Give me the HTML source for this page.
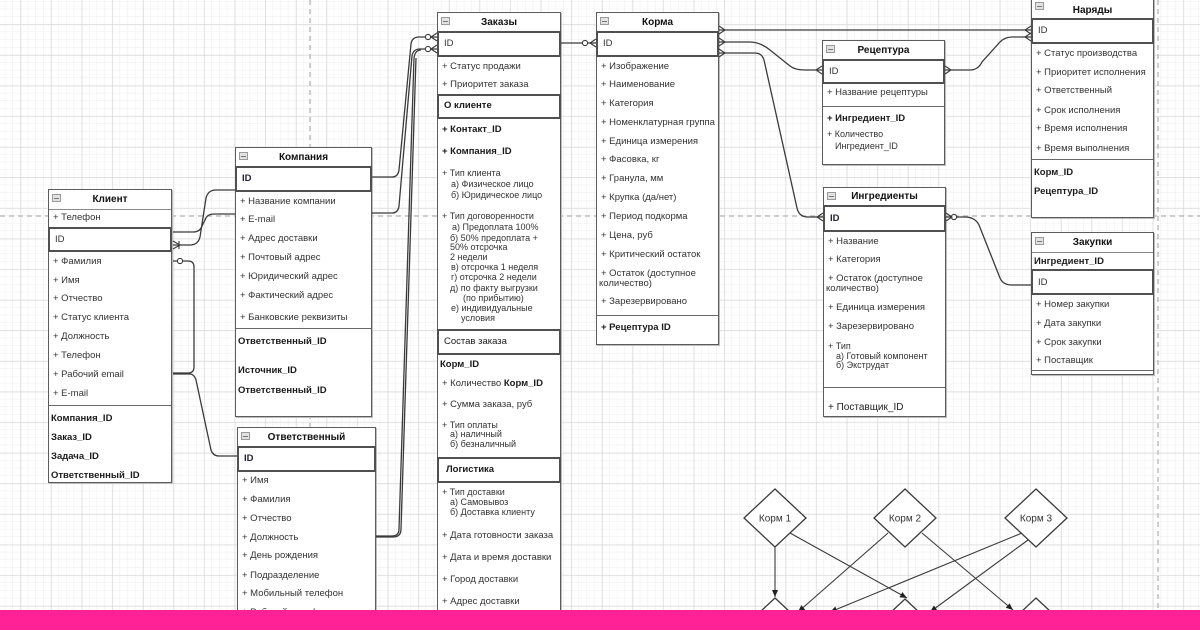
<!DOCTYPE html>
<html>
<head>
<meta charset="utf-8">
<style>
html,body{margin:0;padding:0;width:1200px;height:630px;overflow:hidden;}
body{position:relative;background:#fff;font-family:"Liberation Sans","DejaVu Sans",sans-serif;}
#bg{position:absolute;left:0;top:0;}
#fg{position:absolute;left:0;top:0;z-index:5;pointer-events:none;}
.tb{position:absolute;background:#fff;border:1.5px solid #5c5c5c;box-sizing:border-box;z-index:3;box-shadow:1px 1px 0 #bdbdbd;}
.hd{position:absolute;left:0;right:0;top:0;height:19px;border-bottom:1px solid #8a8a8a;font-weight:bold;text-align:center;line-height:19px;font-size:10px;color:#111;}
.ic{position:absolute;left:3px;top:4px;width:7px;height:6px;background:#e2e2e2;border:1px solid #9a9a9a;}
.ic:after{content:"";position:absolute;left:1px;top:2.5px;width:5px;height:1px;background:#777;}
.bx{position:absolute;left:-1px;right:-1px;border:2px solid #505050;box-sizing:border-box;}
.sp{position:absolute;left:0;right:0;height:0;border-top:1.5px solid #6a6a6a;}
.r{position:absolute;left:4px;font-size:9.5px;line-height:12px;white-space:nowrap;color:#333;}
.s{font-size:9px;line-height:10px;}
.b{font-weight:bold;color:#1a1a1a;left:2px;}
.pink{position:absolute;left:0;top:610px;width:1200px;height:20px;background:#ff2196;z-index:10;}
</style>
</head>
<body>
<svg id="bg" width="1200" height="630" xmlns="http://www.w3.org/2000/svg">
<defs>
<pattern id="mn" x="20.6" y="24.5" width="7.65" height="7.65" patternUnits="userSpaceOnUse">
<path d="M7.65 0V7.65M0 7.65H7.65" stroke="#ededed" stroke-width="1" fill="none"/>
</pattern>
<pattern id="mj" x="20.6" y="24.5" width="30.6" height="30.6" patternUnits="userSpaceOnUse">
<path d="M0 0V30.6M0 0H30.6" stroke="#d6d6d6" stroke-width="1.2" fill="none"/>
</pattern>
</defs>
<rect width="1200" height="630" fill="#fff"/>
<rect width="1200" height="630" fill="url(#mn)"/>
<rect width="1200" height="630" fill="url(#mj)"/>
<line x1="310" y1="0" x2="310" y2="630" stroke="#bdbdbd" stroke-width="1.5" stroke-dasharray="5,4"/>
<line x1="1158" y1="0" x2="1158" y2="630" stroke="#bdbdbd" stroke-width="1.5" stroke-dasharray="5,4"/>
<line x1="0" y1="216" x2="1200" y2="216" stroke="#bdbdbd" stroke-width="1.5" stroke-dasharray="5,4"/>
</svg>

<!-- Клиент -->
<div class="tb" style="left:48px;top:189px;width:124px;height:294px;">
<div class="hd"><div class="ic"></div>Клиент</div>
<div class="r" style="top:22px">+ Телефон</div>
<div class="bx" style="top:37px;height:25px"></div>
<div class="r" style="top:44px;left:6px">ID</div>
<div class="r" style="top:66px">+ Фамилия</div>
<div class="r" style="top:85px">+ Имя</div>
<div class="r" style="top:103px">+ Отчество</div>
<div class="r" style="top:122px">+ Статус клиента</div>
<div class="r" style="top:141px">+ Должность</div>
<div class="r" style="top:160px">+ Телефон</div>
<div class="r" style="top:179px">+ Рабочий email</div>
<div class="r" style="top:198px">+ E-mail</div>
<div class="sp" style="top:215px"></div>
<div class="r b" style="top:223px">Компания_ID</div>
<div class="r b" style="top:242px">Заказ_ID</div>
<div class="r b" style="top:261px">Задача_ID</div>
<div class="r b" style="top:280px">Ответственный_ID</div>
</div>

<!-- Компания -->
<div class="tb" style="left:235px;top:147px;width:137px;height:270px;">
<div class="hd"><div class="ic"></div>Компания</div>
<div class="bx" style="top:18px;height:26px"></div>
<div class="r" style="top:25px;left:6px;font-weight:bold;color:#223">ID</div>
<div class="r" style="top:48px">+ Название компании</div>
<div class="r" style="top:66px">+ E-mail</div>
<div class="r" style="top:85px">+ Адрес доставки</div>
<div class="r" style="top:104px">+ Почтовый адрес</div>
<div class="r" style="top:123px">+ Юридический адрес</div>
<div class="r" style="top:142px">+ Фактический адрес</div>
<div class="r" style="top:164px">+ Банковские реквизиты</div>
<div class="sp" style="top:180px"></div>
<div class="r b" style="top:188px">Ответственный_ID</div>
<div class="r b" style="top:217px">Источник_ID</div>
<div class="r b" style="top:237px">Ответственный_ID</div>
</div>

<!-- Ответственный -->
<div class="tb" style="left:237px;top:427px;width:139px;height:203px;">
<div class="hd"><div class="ic"></div>Ответственный</div>
<div class="bx" style="top:18px;height:26px"></div>
<div class="r" style="top:25px;left:6px;font-weight:bold;color:#223">ID</div>
<div class="r" style="top:47px">+ Имя</div>
<div class="r" style="top:66px">+ Фамилия</div>
<div class="r" style="top:85px">+ Отчество</div>
<div class="r" style="top:104px">+ Должность</div>
<div class="r" style="top:122px">+ День рождения</div>
<div class="r" style="top:142px">+ Подразделение</div>
<div class="r" style="top:160px">+ Мобильный телефон</div>
<div class="r" style="top:179px">+ Рабочий телефон</div>
</div>

<!-- Заказы -->
<div class="tb" style="left:437px;top:12px;width:124px;height:618px;">
<div class="hd"><div class="ic"></div>Заказы</div>
<div class="bx" style="top:18px;height:26px"></div>
<div class="r" style="top:25px;left:6px">ID</div>
<div class="r" style="top:48px">+ Статус продажи</div>
<div class="r" style="top:66px">+ Приоритет заказа</div>
<div class="bx" style="top:81px;height:25px"></div>
<div class="r" style="top:87px;left:6px;font-weight:bold;color:#1a1a1a">О клиенте</div>
<div class="r" style="top:111px;font-weight:bold;color:#1a1a1a">+ Контакт_ID</div>
<div class="r" style="top:133px;font-weight:bold;color:#1a1a1a">+ Компания_ID</div>
<div class="r s" style="top:155px">+ Тип клиента</div>
<div class="r s" style="top:166px;left:13px">а) Физическое лицо</div>
<div class="r s" style="top:177px;left:13px">б) Юридическое лицо</div>
<div class="r s" style="top:198px">+ Тип договоренности</div>
<div class="r s" style="top:209px;left:14px">а) Предоплата 100%</div>
<div class="r s" style="top:220px;left:12px">б) 50% предоплата +</div>
<div class="r s" style="top:229px;left:12px">50% отсрочка</div>
<div class="r s" style="top:239px;left:12px">2 недели</div>
<div class="r s" style="top:249px;left:13px">в) отсрочка 1 неделя</div>
<div class="r s" style="top:259px;left:13px">г) отсрочка 2 недели</div>
<div class="r s" style="top:270px;left:12px">д) по факту выгрузки</div>
<div class="r s" style="top:280px;left:25px">(по прибытию)</div>
<div class="r s" style="top:290px;left:13px">е) индивидуальные</div>
<div class="r s" style="top:300px;left:23px">условия</div>
<div class="bx" style="top:316px;height:26px"></div>
<div class="r" style="top:323px;left:6px;color:#1a1a1a">Состав заказа</div>
<div class="r b" style="top:346px">Корм_ID</div>
<div class="r" style="top:365px">+ Количество <b style="color:#1a1a1a">Корм_ID</b></div>
<div class="r" style="top:386px">+ Сумма заказа, руб</div>
<div class="r s" style="top:407px">+ Тип оплаты</div>
<div class="r s" style="top:416px;left:12px">а) наличный</div>
<div class="r s" style="top:426px;left:12px">б) безналичный</div>
<div class="bx" style="top:444px;height:26px"></div>
<div class="r" style="top:451px;left:8px;font-weight:bold;color:#1a1a1a">Логистика</div>
<div class="r s" style="top:474px">+ Тип доставки</div>
<div class="r s" style="top:484px;left:12px">а) Самовывоз</div>
<div class="r s" style="top:494px;left:12px">б) Доставка клиенту</div>
<div class="r" style="top:517px">+ Дата готовности заказа</div>
<div class="r" style="top:539px">+ Дата и время доставки</div>
<div class="r" style="top:561px">+ Город доставки</div>
<div class="r" style="top:583px">+ Адрес доставки</div>
</div>

<!-- Корма -->
<div class="tb" style="left:596px;top:12px;width:123px;height:333px;">
<div class="hd"><div class="ic"></div>Корма</div>
<div class="bx" style="top:18px;height:26px"></div>
<div class="r" style="top:25px;left:6px">ID</div>
<div class="r" style="top:48px">+ Изображение</div>
<div class="r" style="top:66px">+ Наименование</div>
<div class="r" style="top:85px">+ Категория</div>
<div class="r" style="top:104px">+ Номенклатурная группа</div>
<div class="r" style="top:123px">+ Единица измерения</div>
<div class="r" style="top:141px">+ Фасовка, кг</div>
<div class="r" style="top:160px">+ Гранула, мм</div>
<div class="r" style="top:179px">+ Крупка (да/нет)</div>
<div class="r" style="top:198px">+ Период подкорма</div>
<div class="r" style="top:217px">+ Цена, руб</div>
<div class="r" style="top:236px">+ Критический остаток</div>
<div class="r" style="top:255px">+ Остаток (доступное</div>
<div class="r" style="top:265px;left:2px">количество)</div>
<div class="r" style="top:283px">+ Зарезервировано</div>
<div class="sp" style="top:302px"></div>
<div class="r" style="top:309px;font-weight:bold;color:#1a1a1a">+ Рецептура ID</div>
</div>

<!-- Рецептура -->
<div class="tb" style="left:822px;top:40px;width:123px;height:125px;">
<div class="hd"><div class="ic"></div>Рецептура</div>
<div class="bx" style="top:18px;height:25px"></div>
<div class="r" style="top:25px;left:6px">ID</div>
<div class="r" style="top:46px">+ Название рецептуры</div>
<div class="sp" style="top:65px"></div>
<div class="r" style="top:72px;font-weight:bold;color:#1a1a1a">+ Ингредиент_ID</div>
<div class="r s" style="top:88px">+ Количество</div>
<div class="r s" style="top:100px;left:12px">Ингредиент_ID</div>
</div>

<!-- Ингредиенты -->
<div class="tb" style="left:823px;top:187px;width:123px;height:230px;">
<div class="hd" style="height:18px;line-height:18px"><div class="ic"></div>Ингредиенты</div>
<div class="bx" style="top:17px;height:27px"></div>
<div class="r" style="top:25px;left:6px;font-weight:bold;color:#223">ID</div>
<div class="r" style="top:48px">+ Название</div>
<div class="r" style="top:66px">+ Категория</div>
<div class="r" style="top:85px">+ Остаток (доступное</div>
<div class="r" style="top:95px;left:2px">количество)</div>
<div class="r" style="top:114px">+ Единица измерения</div>
<div class="r" style="top:133px">+ Зарезервировано</div>
<div class="r s" style="top:153px">+ Тип</div>
<div class="r s" style="top:163px;left:12px">а) Готовый компонент</div>
<div class="r s" style="top:172px;left:12px">б) Экструдат</div>
<div class="sp" style="top:199px"></div>
<div class="r" style="top:214px;font-size:10px;color:#222">+ Поставщик_ID</div>
</div>

<!-- Наряды -->
<div class="tb" style="left:1031px;top:-2px;width:123px;height:220px;">
<div class="hd" style="height:20px;line-height:24px"><div class="ic" style="top:3px"></div>Наряды</div>
<div class="bx" style="top:19px;height:26px"></div>
<div class="r" style="top:26px;left:6px">ID</div>
<div class="r" style="top:49px">+ Статус производства</div>
<div class="r" style="top:68px">+ Приоритет исполнения</div>
<div class="r" style="top:86px">+ Ответственный</div>
<div class="r" style="top:106px">+ Срок исполнения</div>
<div class="r" style="top:124px">+ Время исполнения</div>
<div class="r" style="top:144px">+ Время выполнения</div>
<div class="sp" style="top:160px"></div>
<div class="r b" style="top:168px">Корм_ID</div>
<div class="r b" style="top:187px">Рецептура_ID</div>
</div>

<!-- Закупки -->
<div class="tb" style="left:1031px;top:232px;width:123px;height:143px;">
<div class="hd"><div class="ic"></div>Закупки</div>
<div class="r b" style="top:23px">Ингредиент_ID</div>
<div class="bx" style="top:36px;height:26px"></div>
<div class="r" style="top:44px;left:6px">ID</div>
<div class="r" style="top:66px">+ Номер закупки</div>
<div class="r" style="top:85px">+ Дата закупки</div>
<div class="r" style="top:104px">+ Срок закупки</div>
<div class="r" style="top:122px">+ Поставщик</div>
<div class="sp" style="top:137px"></div>
</div>

<svg id="fg" width="1200" height="630" xmlns="http://www.w3.org/2000/svg">
<defs>
<marker id="ar" markerWidth="8" markerHeight="8" refX="7" refY="4" orient="auto" markerUnits="userSpaceOnUse">
<path d="M0,1 L7,4 L0,7 Z" fill="#222"/>
</marker>
</defs>
<g fill="none" stroke="#3a3a3a" stroke-width="1.3">
<path d="M173,245 L190,245 Q198,245 200,237 L206,198 Q208,190 216,190 L235,190"/>
<path d="M173,232 L193,232 Q200,232 202,226 L205,220 Q207,214 214,214 L235,214"/>
<path d="M173,261 L188,261 Q194,261 194,267 L194,367 Q194,373 188,373 L173,373"/>
<path d="M173,374 L190,374 Q194,374 196,380 L211,450 Q213,456 219,456 L237,456"/>
<path d="M372,177 L392,177 Q398,177 399,170 L411,44 Q412,37 419,37 L437,37"/>
<path d="M372,213 L392,213 Q398,213 399,206 L412,56 Q413,49 420,49 L437,49"/>
<path d="M376,536 L392,536 Q399,536 399,529 L414,58 Q415,50 421,50"/>
<path d="M376,537 L393,537 Q401,537 401,529 L416,58"/>
<path d="M561,43 L596,43"/>
<path d="M719,30 L1031,30"/>
<path d="M719,42 L750,42 Q760,42 770,50 L790,66 Q795,70 805,70 L822,70"/>
<path d="M719,53 L755,53 Q762,53 764,60 L797,208 Q799,217 808,217 L823,217"/>
<path d="M945,70 L970,70 Q978,70 982,62 L1000,42 Q1005,37 1012,37 L1031,37"/>
<path d="M946,217 L965,217 Q975,217 979,225 L1000,278 Q1003,285 1012,285 L1031,285"/>
</g>
<g fill="#fff" stroke="#3a3a3a" stroke-width="1.1">
<circle cx="180" cy="261" r="2.6"/>
<circle cx="428" cy="37" r="2.6"/>
<circle cx="428" cy="49" r="2.6"/>
<circle cx="585" cy="43" r="2.6"/>
<circle cx="954" cy="217" r="2.6"/>
</g>
<g fill="none" stroke="#3a3a3a" stroke-width="1.1">
<path d="M173,241 L180,245 L173,249 M179,241 V249"/>
<path d="M437,33 L431,37 L437,41"/>
<path d="M437,45 L431,49 L437,53"/>
<path d="M596,39 L590,43 L596,47"/>
<path d="M719,26 L725,30 L719,34"/>
<path d="M719,38 L725,42 L719,46"/>
<path d="M719,49 L725,53 L719,57"/>
<path d="M1031,26 L1025,30 L1031,34"/>
<path d="M1031,33 L1025,37 L1031,41"/>
<path d="M822,66 L816,70 L822,74"/>
<path d="M823,213 L817,217 L823,221"/>
<path d="M946,213 L952,217 L946,221"/>
<path d="M945,66 L951,70 L945,74"/>
</g>
<g fill="#fff" stroke="#3a3a3a" stroke-width="1.3">
<polygon points="775,489 806,518 775,547 744,518"/>
<polygon points="905,489 936,518 905,547 874,518"/>
<polygon points="1036,489 1067,518 1036,547 1005,518"/>
<polygon points="775,598 806,627 775,656 744,627"/>
<polygon points="905,599 936,628 905,657 874,628"/>
<polygon points="1036,598 1067,627 1036,656 1005,627"/>
</g>
<g font-family="Liberation Sans, sans-serif" font-size="10" fill="#333" text-anchor="middle">
<text x="775" y="521.5">Корм 1</text>
<text x="905" y="521.5">Корм 2</text>
<text x="1036" y="521.5">Корм 3</text>
</g>
<g fill="none" stroke="#3a3a3a" stroke-width="1.1" marker-end="url(#ar)">
<path d="M775,547 L775,597"/>
<path d="M790,533 L907,598"/>
<path d="M888,533 L798,612"/>
<path d="M922,533 L1013,610"/>
<path d="M1022,533 L830,612"/>
<path d="M1028,540 L930,612"/>
</g>
</svg>

<div class="pink"></div>
</body>
</html>
